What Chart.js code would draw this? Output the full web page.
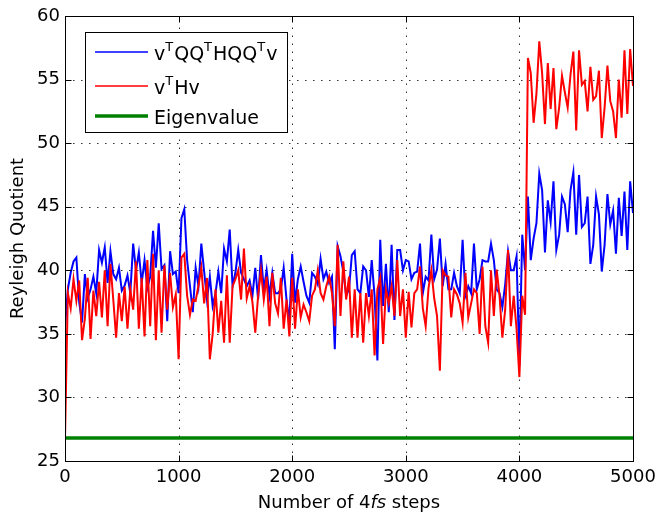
<!DOCTYPE html>
<html>
<head>
<meta charset="utf-8">
<title>Reyleigh Quotient</title>
<script src="https://cdn.jsdelivr.net/npm/chart.js@4.4.1/dist/chart.umd.min.js"></script>
<style>
    body { margin: 0; background: #fff; }
    canvas { display: block; }
</style>
</head>
<body>
<canvas id="rayleigh-chart" width="657" height="512"></canvas>
<script>
// values, one sample every 25 steps (0 .. 5000)
const stepSpacing = 25;

const projectedQuotient = [
    35.5, 38.5, 39.8, 40.7, 41.0, 37.5, 35.9, 39.7, 37.8, 38.5,
    39.5, 38.2, 41.6, 40.6, 41.8, 39.0, 41.5, 39.7, 39.3, 40.2,
    38.4, 38.8, 39.6, 38.2, 42.1, 40.0, 41.4, 39.0, 40.8, 38.6,
    39.5, 43.1, 40.2, 43.7, 40.1, 40.4, 36.0, 41.5, 39.7, 39.9,
    38.2, 44.1, 44.8, 40.8, 38.75, 36.7, 40.2, 38.75, 42.1, 39.9,
    37.7, 39.5, 37.2, 38.2, 39.9, 38.2, 41.7, 40.7, 43.2, 38.75,
    39.8, 41.6, 39.8, 39.3, 38.75, 39.2, 38.0, 40.2, 37.7, 41.2,
    38.5, 40.0, 38.0, 39.8, 38.2, 38.2, 38.5, 40.2, 37.7, 35.9,
    41.3, 37.45, 39.3, 40.3, 39.1, 38.0, 37.45, 39.8, 39.5, 38.9,
    40.9, 39.3, 39.9, 39.0, 39.5, 33.8, 41.9, 41.1, 39.9, 38.0,
    38.5, 41.2, 41.5, 38.5, 38.2, 40.3, 40.0, 37.9, 40.8, 38.0,
    32.9, 42.4, 37.2, 40.5, 36.7, 42.0, 36.1, 41.6, 41.6, 40.0,
    40.8, 40.7, 39.3, 39.8, 39.9, 42.1, 38.2, 39.5, 39.2, 42.8,
    39.3, 40.05, 42.5, 38.75, 40.5, 38.5, 38.5, 39.8, 38.75, 38.2,
    42.4, 38.0, 38.75, 38.2, 42.1, 38.5, 39.3, 40.8, 40.7, 40.7,
    42.1, 40.8, 38.5, 38.2, 37.1, 38.9, 41.5, 40.0, 40.0, 41.1,
    32.5, 42.8, 40.0, 45.8, 40.8, 42.5, 43.7, 47.6, 46.3, 41.4,
    45.5, 43.8, 47.0, 41.6, 42.8, 45.8, 45.2, 43.0, 46.3, 47.7,
    42.8, 47.5, 43.4, 43.7, 45.8, 40.5, 42.0, 45.8, 44.4, 39.9,
    42.0, 46.0, 43.6, 44.7, 41.3, 45.7, 42.7, 46.2, 41.6, 47.0,
    44.5
];

const fullQuotient = [
    26.8, 38.2, 37.0, 39.3, 37.6, 39.2, 34.5, 36.2, 39.4, 34.6,
    38.4, 36.4, 39.1, 36.3, 40.0, 35.6, 40.5, 37.7, 34.7, 38.2,
    36.0, 38.7, 35.4, 38.5, 36.9, 40.7, 35.4, 39.4, 34.8, 40.8,
    35.6, 41.3, 34.5, 40.0, 35.1, 40.4, 36.9, 39.8, 37.1, 38.1,
    33.0, 41.0, 41.3, 38.0, 36.5, 37.7, 37.6, 38.8, 40.2, 37.4,
    39.4, 33.0, 35.0, 38.5, 35.1, 37.6, 34.3, 39.6, 34.3, 38.75,
    39.3, 40.0, 37.7, 41.7, 37.8, 38.75, 37.5, 35.1, 38.0, 40.0,
    37.7, 39.5, 35.6, 39.8, 37.4, 36.6, 39.4, 35.4, 37.7, 34.8,
    39.4, 35.4, 38.5, 36.3, 37.3, 36.7, 36.0, 38.0, 38.5, 40.0,
    38.2, 37.7, 38.75, 39.5, 38.2, 35.6, 42.0, 36.4, 40.7, 37.7,
    39.5, 34.7, 38.5, 34.7, 38.2, 34.3, 38.2, 36.4, 38.5, 33.3,
    38.5, 39.4, 34.2, 38.5, 37.4, 38.75, 36.4, 40.8, 36.4, 38.5,
    34.7, 38.3, 35.5, 38.2, 38.5, 40.3, 37.0, 35.6, 38.6, 40.0,
    37.8, 36.4, 32.1, 40.0, 39.6, 39.5, 36.3, 38.5, 38.1, 37.4,
    35.9, 39.8, 36.3, 37.4, 38.5, 38.2, 35.0, 40.3, 35.6, 34.3,
    40.0, 36.4, 40.05, 38.0, 34.7, 36.9, 41.6, 35.6, 38.0, 35.4,
    31.6, 38.0, 36.5, 56.7, 55.5, 51.6, 53.9, 58.0, 55.5, 51.5,
    56.3, 52.7, 55.9, 51.1, 52.8, 55.3, 54.0, 52.8, 55.4, 57.2,
    51.0, 57.3, 54.6, 54.9, 52.5, 56.0, 53.4, 53.7, 55.7, 50.4,
    52.8, 56.1, 53.3, 52.5, 50.4, 55.0, 52.0, 57.3, 52.3, 57.4,
    54.5
];

const eigenvalue = 26.8;

const xTicks = [0, 1000, 2000, 3000, 4000, 5000];
const yTicks = [25, 30, 35, 40, 45, 50, 55, 60];

// '^' marks a one-letter superscript
const legendLabels = ['v^TQQ^THQQ^Tv', 'v^THv', 'Eigenvalue'];
const legendColors = ['#0000ff', '#ff0000', '#008000'];
const legendWidths = [1.5, 1.5, 3.5];

const xTitleParts = [['Number of 4', 'normal'], ['fs', 'italic'], [' steps', 'normal']];
const yTitle = 'Reyleigh Quotient';

const fontFamily = '"DejaVu Sans", sans-serif';

function drawRich(ctx, text, x, y) {
    const parts = text.split('^');
    ctx.font = '19px ' + fontFamily;
    ctx.fillText(parts[0], x, y);
    x += ctx.measureText(parts[0]).width;
    parts.slice(1).forEach(p => {
        ctx.font = '13px ' + fontFamily;
        ctx.fillText(p[0], x, y - 9);
        x += ctx.measureText(p[0]).width + 1;
        ctx.font = '19px ' + fontFamily;
        ctx.fillText(p.slice(1), x, y);
        x += ctx.measureText(p.slice(1)).width;
    });
}

// dotted grid, boxed axes with inward ticks, legend and axis titles like the original figure
const matlabFrame = {
    id: 'matlabFrame',
    beforeDatasetsDraw(chart) {
        const { ctx, chartArea: a, scales: { x, y } } = chart;
        ctx.save();
        ctx.strokeStyle = '#333';
        ctx.lineWidth = 1;
        ctx.setLineDash([1.5, 6.5]);
        xTicks.slice(1, -1).forEach(v => {
            const px = Math.round(x.getPixelForValue(v)) + 0.5;
            ctx.beginPath(); ctx.moveTo(px, a.bottom); ctx.lineTo(px, a.top); ctx.stroke();
        });
        yTicks.slice(1, -1).forEach(v => {
            const py = Math.round(y.getPixelForValue(v)) + 0.5;
            ctx.beginPath(); ctx.moveTo(a.left, py); ctx.lineTo(a.right, py); ctx.stroke();
        });
        ctx.restore();
    },
    afterDatasetsDraw(chart) {
        const { ctx, chartArea: a, scales: { x, y } } = chart;
        const l = Math.round(a.left) + 0.5, r = Math.round(a.right) + 0.5;
        const t = Math.round(a.top) + 0.5, b = Math.round(a.bottom) + 0.5;
        ctx.save();
        ctx.strokeStyle = '#000';
        ctx.lineWidth = 1;
        ctx.strokeRect(l, t, r - l, b - t);
        const tick = 6;
        ctx.beginPath();
        xTicks.forEach(v => {
            const px = Math.round(x.getPixelForValue(v)) + 0.5;
            ctx.moveTo(px, b); ctx.lineTo(px, b - tick);
            ctx.moveTo(px, t); ctx.lineTo(px, t + tick);
        });
        yTicks.forEach(v => {
            const py = Math.round(y.getPixelForValue(v)) + 0.5;
            ctx.moveTo(l, py); ctx.lineTo(l + tick, py);
            ctx.moveTo(r, py); ctx.lineTo(r - tick, py);
        });
        ctx.stroke();

        // legend
        ctx.fillStyle = '#fff';
        ctx.fillRect(85.5, 32.5, 202, 100);
        ctx.strokeRect(85.5, 32.5, 202, 100);
        const rows = [52, 86, 116];
        legendLabels.forEach((label, i) => {
            ctx.strokeStyle = legendColors[i];
            ctx.lineWidth = legendWidths[i];
            ctx.beginPath(); ctx.moveTo(95, rows[i]); ctx.lineTo(148, rows[i]); ctx.stroke();
            ctx.fillStyle = '#000';
            ctx.textBaseline = 'alphabetic';
            ctx.textAlign = 'left';
            drawRich(ctx, label, 154, rows[i] + 8);
        });

        // x title with italic fs
        ctx.fillStyle = '#000';
        let total = 0;
        xTitleParts.forEach(([txt, style]) => {
            ctx.font = style + ' 18px ' + fontFamily;
            total += ctx.measureText(txt).width;
        });
        let cx = (a.left + a.right) / 2 - total / 2;
        xTitleParts.forEach(([txt, style]) => {
            ctx.font = style + ' 18px ' + fontFamily;
            ctx.fillText(txt, cx, 508);
            cx += ctx.measureText(txt).width;
        });

        // y title
        ctx.translate(18, (a.top + a.bottom) / 2);
        ctx.rotate(-Math.PI / 2);
        ctx.font = '18px ' + fontFamily;
        ctx.textAlign = 'center';
        ctx.textBaseline = 'middle';
        ctx.fillText(yTitle, 0, 0);
        ctx.restore();
    }
};

document.addEventListener('DOMContentLoaded', () => {
    const chartCanvas = document.getElementById('rayleigh-chart');
    const steps = projectedQuotient.map((_, i) => i * stepSpacing);

    const ctx = chartCanvas.getContext('2d');
    new Chart(ctx, {
        type: 'line',
        data: {
            datasets: [
                {
                    label: 'vTQQTHQQTv',
                    data: steps.map((s, i) => ({ x: s, y: projectedQuotient[i] })),
                    borderColor: '#0000ff',
                    borderWidth: 2,
                    order: 3
                },
                {
                    label: 'vTHv',
                    data: steps.map((s, i) => ({ x: s, y: fullQuotient[i] })),
                    borderColor: '#ff0000',
                    borderWidth: 2,
                    order: 2
                },
                {
                    label: 'Eigenvalue',
                    data: [{ x: xTicks[0], y: eigenvalue }, { x: xTicks[xTicks.length - 1], y: eigenvalue }],
                    borderColor: '#008000',
                    borderWidth: 3.5,
                    order: 1
                }
            ]
        },
        options: {
            responsive: false,
            animation: false,
            layout: { padding: { top: 16, right: 24, left: 0, bottom: 0 } },
            elements: { point: { radius: 0 }, line: { tension: 0 } },
            plugins: { legend: { display: false }, tooltip: { enabled: false } },
            scales: {
                x: {
                    type: 'linear',
                    min: 0,
                    max: 5000,
                    afterBuildTicks: scale => { scale.ticks = xTicks.map(v => ({ value: v })); },
                    afterFit: scale => {
                        scale.height = 51;
                        scale.paddingLeft = 0;
                        scale.paddingRight = 0;
                    },
                    grid: { display: false, drawTicks: false },
                    border: { display: false },
                    ticks: {
                        color: '#000',
                        padding: 6,
                        maxRotation: 0,
                        callback: v => String(v),
                        font: { family: fontFamily, size: 18 }
                    }
                },
                y: {
                    min: 25,
                    max: 60,
                    afterBuildTicks: scale => { scale.ticks = yTicks.map(v => ({ value: v })); },
                    afterFit: scale => {
                        scale.width = 65;
                        scale.paddingTop = 0;
                        scale.paddingBottom = 0;
                    },
                    grid: { display: false, drawTicks: false },
                    border: { display: false },
                    ticks: {
                        color: '#000',
                        padding: 5,
                        callback: v => String(v),
                        font: { family: fontFamily, size: 18 }
                    }
                }
            }
        },
        plugins: [matlabFrame]
    });
});
</script>
</body>
</html>
